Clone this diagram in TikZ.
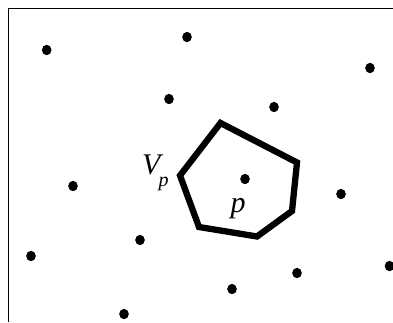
\documentclass[tikz,border=0pt]{standalone}
\usepackage{fontspec}
\setmainfont{Liberation Serif}
\begin{document}
\begin{tikzpicture}[x=1pt,y=-1pt,
  site/.style={fill=black,draw=none},
  cell/.style={line width=6.3pt,line join=miter,draw=black},
  frameline/.style={line width=1.6pt,draw=black},
  lbl/.style={inner sep=0pt,anchor=base west}]
\useasboundingbox (0,0) rectangle (393,322);
% frame
\draw[frameline] (8.5,322) -- (8.5,8.5) -- (393,8.5);
% sites
\foreach \x/\y in {46.7/50, 187/37, 370/68, 169/99, 274/107, 245/179,
  73/186, 341/194, 140/240, 31/256, 297/273, 389.5/266, 232/289, 124/314}
  \fill[site] (\x,\y) ellipse [x radius=4.8, y radius=5.2];
% Voronoi cell
\coordinate (v1) at (220.5,123);
\coordinate (v2) at (297,162.5);
\coordinate (v3) at (292,211);
\coordinate (v4) at (257,236.5);
\coordinate (v5) at (199,227);
\coordinate (v6) at (180,175.5);
\draw[cell] (v1) -- (v2) -- (v3) -- (v4) -- (v5) -- (v6) -- cycle;
% labels
\node[lbl] (vp) at (142,174.5) {\fontsize{30}{32}\selectfont\itshape V};
\node[lbl] (vsub) at (158.5,186) {\fontsize{20}{22}\selectfont\itshape p};
\node[lbl] (plab) at (230.5,212) {\fontsize{30}{32}\selectfont\itshape p};
\end{tikzpicture}
\end{document}
